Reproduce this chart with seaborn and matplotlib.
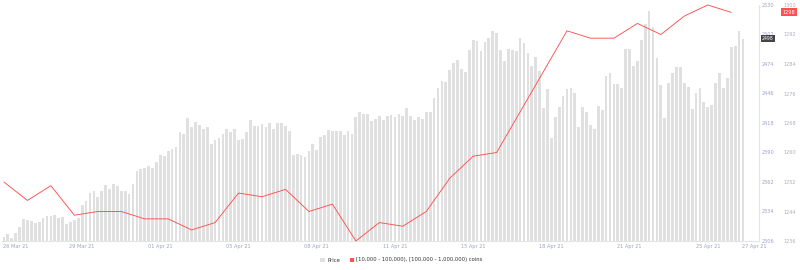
import matplotlib
matplotlib.use("Agg")
import matplotlib.pyplot as plt
from matplotlib.patches import Patch
import seaborn as sns
import pandas as pd
import numpy as np

# ---- data ----
price = [2310, 2313, 2309, 2314, 2319, 2327, 2326, 2325, 2323, 2324, 2328, 2330, 2330, 2331, 2328, 2329,
         2322, 2324, 2326, 2328, 2340, 2344, 2352, 2353, 2348, 2353, 2359, 2355, 2360, 2358, 2353, 2353,
         2351, 2360, 2372, 2374, 2375, 2377, 2375, 2381, 2388, 2387, 2391, 2393, 2395, 2409, 2408, 2423,
         2414, 2419, 2416, 2412, 2414, 2398, 2402, 2404, 2408, 2412, 2409, 2412, 2402, 2403, 2409, 2421,
         2415, 2415, 2417, 2414, 2418, 2412, 2418, 2418, 2415, 2410, 2388, 2389, 2388,
         2386, 2391, 2398, 2392, 2405, 2407, 2411, 2410, 2410, 2410, 2407, 2410, 2408,
         2424, 2428, 2427, 2427, 2420, 2422, 2425, 2421, 2425, 2426, 2424, 2427, 2425, 2432, 2425, 2421,
         2424, 2422, 2428, 2428,
         2442, 2451, 2458, 2457, 2468, 2475, 2478, 2469, 2466, 2487, 2497, 2496, 2486, 2495, 2499, 2505,
         2503, 2487, 2477, 2488, 2487, 2486, 2499, 2494, 2484, 2472, 2481, 2467, 2432, 2450,
         2404, 2424, 2433, 2444, 2450, 2451, 2446, 2414, 2433, 2428, 2416, 2412, 2434, 2430, 2463, 2465,
         2455, 2455, 2451, 2488, 2488, 2472, 2477, 2497, 2512, 2524, 2509, 2480, 2454, 2423,
         2456, 2465, 2471, 2471, 2456, 2452, 2431, 2446, 2451, 2438, 2433, 2435, 2456, 2465, 2451, 2461,
         2490, 2491, 2505, 2498]

coins = [1252, 1247, 1251, 1243, 1244, 1244, 1242, 1242, 1239, 1241, 1249, 1248, 1250, 1244, 1246, 1236,
         1241, 1240, 1244, 1253, 1259, 1260, 1271, 1282, 1293, 1291, 1291, 1295, 1292, 1297, 1300, 1298]
coins_step = 6  # one coin-count sample every 6 price bars

date_labels = ["26 Mar 21", "29 Mar 21", "01 Apr 21", "05 Apr 21", "08 Apr 21", "11 Apr 21",
               "15 Apr 21", "18 Apr 21", "21 Apr 21", "25 Apr 21", "27 Apr 21"]
date_pos = [3, 20, 40, 60, 80, 100, 120, 140, 160, 180, 192]

price_ticks = [2306, 2334, 2362, 2390, 2418, 2446, 2474, 2502, 2530]
coin_ticks = [1236, 1244, 1252, 1260, 1268, 1276, 1284, 1292, 1300]

series_name = "[10,000 - 100,000), [100,000 - 1,000,000) coins"

# ---- frames ----
df_price = pd.DataFrame({"i": np.arange(len(price)), "price": price})
df_coins = pd.DataFrame({"i": np.arange(len(coins)) * coins_step, "coins": coins})

sns.set_style("white")
plt.rcParams["font.family"] = ["DejaVu Sans"]

W, H = 800, 270
fig = plt.figure(figsize=(W / 100, H / 100), dpi=100)
ax_l, ax_r, ax_t, ax_b = 2, 759, 5, 241
ax = fig.add_axes([ax_l / W, 1 - ax_b / H, (ax_r - ax_l) / W, (ax_b - ax_t) / H])

bar_color = "#e0e0e0"
line_color = "#ff4f4f"
price_lbl = "#9da2c2"
coin_lbl = "#aeb0bc"

sns.barplot(data=df_price, x="i", y="price", native_scale=True, color=bar_color,
            width=0.7, errorbar=None, ax=ax, saturation=1, linewidth=0)
ax.set_xlim(-0.5, 193.1)
ax.set_ylim(price_ticks[0], price_ticks[-1])
ax.set_xlabel("")
ax.set_ylabel("")

ax2 = ax.twinx()
sns.lineplot(data=df_coins, x="i", y="coins", color=line_color, linewidth=0.65, ax=ax2)
ax2.set_ylim(coin_ticks[0], coin_ticks[-1])
ax2.set_xlim(-0.5, 193.1)
ax2.set_xlabel("")
ax2.set_ylabel("")
for l in ax2.lines:
    l.set_clip_on(False)

# axes styling
for a in (ax, ax2):
    for s in a.spines.values():
        s.set_visible(False)
ax.spines["right"].set_visible(True)
ax.spines["right"].set_color("#e4e4e4")
ax.spines["right"].set_linewidth(0.8)
ax.spines["bottom"].set_visible(True)
ax.spines["bottom"].set_color("#e4e4e4")
ax.spines["bottom"].set_linewidth(0.8)

ax.set_xticks(date_pos)
ax.set_xticklabels(date_labels)
ax.tick_params(axis="x", length=0, pad=2, labelsize=3.6, labelcolor=price_lbl)

ax.yaxis.tick_right()
ax.set_yticks(price_ticks)
ax.set_yticklabels([str(t) for t in price_ticks])
ax.tick_params(axis="y", length=0, pad=2.2, labelsize=3.6, labelcolor=price_lbl)
for t in ax.get_yticklabels():
    t.set_horizontalalignment("left")

ax2.set_yticks(coin_ticks)
ax2.set_yticklabels([str(t) for t in coin_ticks])
ax2.tick_params(axis="y", length=0, pad=17.5, labelsize=3.6, labelcolor=coin_lbl)
ax2.tick_params(axis="x", length=0, labelbottom=False)

# current value labels
ax2.annotate(str(coins[-1]), xy=(1, coins[-1]), xycoords=("axes fraction", "data"),
             xytext=(17, 0), textcoords="offset points", fontsize=3.6, color="white",
             ha="left", va="center",
             bbox=dict(boxstyle="square,pad=0.3", fc=line_color, ec="none"))
ax.annotate(str(price[-1]), xy=(1, price[-1]), xycoords=("axes fraction", "data"),
            xytext=(2.2, 0), textcoords="offset points", fontsize=3.3, color="white",
            ha="left", va="center",
            bbox=dict(boxstyle="square,pad=0.2", fc="#444444", ec="none"))

handles = [Patch(facecolor=bar_color, edgecolor="none", label="Price"),
           Patch(facecolor=line_color, edgecolor="none", label=series_name)]
fig.legend(handles=handles, loc="center", bbox_to_anchor=(0.502, 1 - 260 / H), ncol=2,
           frameon=False, fontsize=3.8, handlelength=0.8, handleheight=0.8,
           handletextpad=0.5, columnspacing=1.8, labelcolor="#333333")

fig.savefig("out.png", dpi=100)
